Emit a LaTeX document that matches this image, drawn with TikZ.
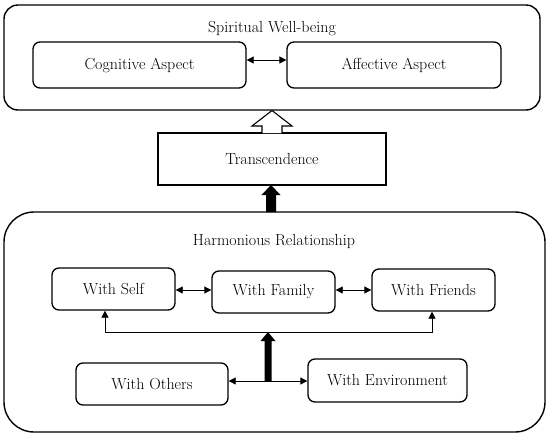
\documentclass[tikz,border=0pt]{standalone}
\usetikzlibrary{arrows.meta}
\begin{document}
\begin{tikzpicture}[x=1pt,y=-1pt,
  txt/.style={font=\fontsize{16}{19}\selectfont},
  bigbox/.style={draw,line width=1.4pt,rounded corners=14pt,inner sep=0pt},
  rbox/.style={draw,line width=1.3pt,rounded corners=7pt,inner sep=0pt,txt},
  sbox/.style={draw,line width=1.2pt,inner sep=0pt,txt},
  conn/.style={line width=0.8pt,{Triangle[length=7pt,width=7pt]}-{Triangle[length=7pt,width=7pt]}},
  fatarrow/.style={fill=black},
  hollowarrow/.style={draw,fill=white,line width=1.1pt,line join=miter}]
\useasboundingbox (0,0) rectangle (550,437);
% top group
\node[bigbox,minimum width=536pt,minimum height=105pt] (top) at (272,57.5) {};
\node[txt] (toplbl) at (272,29) {Spiritual Well-being};
\node[rbox,minimum width=213pt,minimum height=46pt] (cog) at (139.5,65) {Cognitive Aspect};
\node[rbox,minimum width=214pt,minimum height=46pt] (aff) at (394,65) {Affective Aspect};
\coordinate (y60) at (0,60);
\draw[conn] (cog.east |- y60) -- (aff.west |- y60);
% transcendence
\node[sbox,minimum width=228pt,minimum height=52pt] (trans) at (272,159) {Transcendence};
% bottom group
\node[bigbox,rounded corners=30pt,minimum width=541pt,minimum height=220pt] (bot) at (274.5,322) {};
\node[txt] (botlbl) at (274,242) {Harmonious Relationship};
\node[rbox,minimum width=123pt,minimum height=42pt] (self) at (113.5,289) {With Self};
\node[rbox,minimum width=123pt,minimum height=42pt] (fam) at (273.5,292) {With Family};
\node[rbox,minimum width=123pt,minimum height=42pt] (fri) at (433.5,290) {With Friends};
\node[rbox,minimum width=152pt,minimum height=42pt] (oth) at (152,384) {With Others};
\node[rbox,minimum width=159pt,minimum height=43pt] (env) at (387.5,380.5) {With Environment};
\coordinate (y290) at (0,290);
\draw[conn] (self.east |- y290) -- (fam.west |- y290);
\draw[conn] (fam.east |- y290) -- (fri.west |- y290);
\coordinate (jl) at (105,332);
\coordinate (jr) at (432,332);
\draw[conn] (self.south -| jl) -- (jl) -- (jr) -- (fri.south -| jr);
\coordinate (y381) at (0,381);
\draw[conn] (oth.east |- y381) -- (env.west |- y381);
% thick arrow bottom to junction
\fill[fatarrow] (264.5,381) -- (271.5,381) -- (271.5,341) -- (275.5,341) -- (268,332) -- (260.5,341) -- (264.5,341) -- cycle;
% thick arrow bottom box to transcendence
\fill[fatarrow] (266,212) -- (276,212) -- (276,195) -- (280.5,195) -- (271,185) -- (261.5,195) -- (266,195) -- cycle;
% hollow arrow transcendence to top
\draw[hollowarrow] (262,133) -- (262,126) -- (252,126) -- (272,110.5) -- (292,126) -- (282,126) -- (282,133);
\end{tikzpicture}
\end{document}
